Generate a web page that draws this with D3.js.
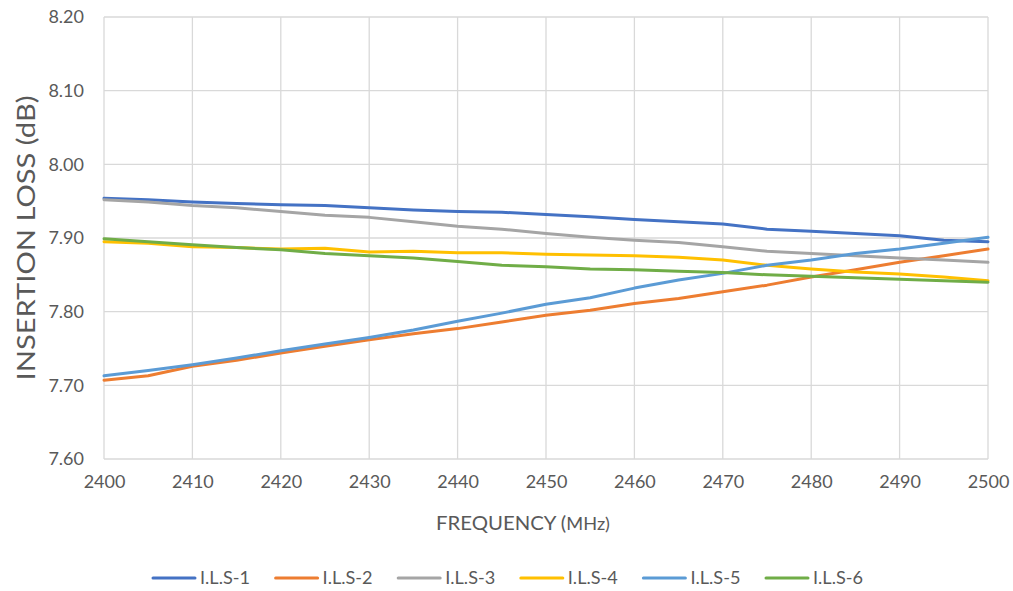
<!DOCTYPE html>
<html>
<head>
<meta charset="utf-8">
<script src="https://cdn.jsdelivr.net/npm/d3@7"></script>
<style>
  body { margin: 0; background: #fff; }
  svg text { font-family: Lato, "Open Sans", sans-serif; fill: #595959; }
</style>
</head>
<body>
<svg id="chart" width="1013" height="591"></svg>
<script>
// Frequency points (MHz)
var freqs = [2400, 2405, 2410, 2415, 2420, 2425, 2430, 2435, 2440, 2445, 2450,
             2455, 2460, 2465, 2470, 2475, 2480, 2485, 2490, 2495, 2500];

// Insertion loss per series (dB)
var ils1 = [7.954, 7.952, 7.949, 7.947, 7.945, 7.944, 7.941, 7.938, 7.936, 7.935, 7.932,
            7.929, 7.925, 7.922, 7.919, 7.912, 7.909, 7.906, 7.903, 7.897, 7.895];
var ils2 = [7.707, 7.713, 7.726, 7.734, 7.744, 7.753, 7.762, 7.770, 7.777, 7.786, 7.795,
            7.802, 7.811, 7.818, 7.827, 7.836, 7.847, 7.857, 7.867, 7.876, 7.885];
var ils3 = [7.952, 7.949, 7.944, 7.941, 7.936, 7.931, 7.928, 7.922, 7.916, 7.912, 7.906,
            7.901, 7.897, 7.894, 7.888, 7.882, 7.879, 7.876, 7.873, 7.870, 7.867];
var ils4 = [7.895, 7.893, 7.888, 7.887, 7.885, 7.886, 7.881, 7.882, 7.880, 7.880, 7.878,
            7.877, 7.876, 7.874, 7.870, 7.863, 7.858, 7.854, 7.851, 7.847, 7.842];
var ils5 = [7.713, 7.720, 7.728, 7.737, 7.747, 7.756, 7.765, 7.775, 7.787, 7.798, 7.810,
            7.819, 7.832, 7.843, 7.852, 7.863, 7.870, 7.879, 7.885, 7.893, 7.901];
var ils6 = [7.899, 7.895, 7.891, 7.887, 7.884, 7.879, 7.876, 7.873, 7.868, 7.863, 7.861,
            7.858, 7.857, 7.855, 7.853, 7.850, 7.848, 7.846, 7.844, 7.842, 7.840];

var names = ["I.L.S-1", "I.L.S-2", "I.L.S-3", "I.L.S-4", "I.L.S-5", "I.L.S-6"];
var colors = ["#4472C4", "#ED7D31", "#A5A5A5", "#FFC000", "#5B9BD5", "#70AD47"];
var seriesValues = [ils1, ils2, ils3, ils4, ils5, ils6];

var xTicks = [2400, 2410, 2420, 2430, 2440, 2450, 2460, 2470, 2480, 2490, 2500];
var yTicks = [7.60, 7.70, 7.80, 7.90, 8.00, 8.10, 8.20];

// Plot area
var margin = { top: 17, right: 25, bottom: 132, left: 104 };
var width = 1013 - margin.left - margin.right;
var height = 591 - margin.top - margin.bottom;

var x = d3.scaleLinear().domain([2400, 2500]).range([0, width]);
var y = d3.scaleLinear().domain([7.60, 8.20]).range([height, 0]);

var svg = d3.select('#chart');
var g = svg.append('g')
    .attr('transform', 'translate(' + margin.left + ',' + margin.top + ')');

// Gridlines
g.append('g')
  .selectAll('line')
  .data(yTicks)
  .enter().append('line')
    .attr('x1', 0).attr('x2', width)
    .attr('y1', function (d) { return y(d); })
    .attr('y2', function (d) { return y(d); })
    .attr('stroke', '#d9d9d9')
    .attr('stroke-width', 1.3);

g.append('g')
  .selectAll('line')
  .data(xTicks)
  .enter().append('line')
    .attr('y1', 0).attr('y2', height)
    .attr('x1', function (d) { return x(d); })
    .attr('x2', function (d) { return x(d); })
    .attr('stroke', '#d9d9d9')
    .attr('stroke-width', 1.3);

// Axes (labels only, lines come from grid)
var xAxis = d3.axisBottom(x).tickValues(xTicks).tickSize(0).tickPadding(16)
    .tickFormat(d3.format('d'));
var yAxis = d3.axisLeft(y).tickValues(yTicks).tickSize(0).tickPadding(20)
    .tickFormat(d3.format('.2f'));

var gx = g.append('g')
  .attr('transform', 'translate(0,' + height + ')')
  .call(xAxis);
gx.select('.domain').remove();
gx.selectAll('text').style('font-size', '18px').attr('fill', '#595959');

var gy = g.append('g').call(yAxis);
gy.select('.domain').remove();
gy.selectAll('text').style('font-size', '18px').attr('fill', '#595959');

// Series lines
var line = d3.line()
  .x(function (d, i) { return x(freqs[i]); })
  .y(function (d) { return y(d); });

seriesValues.forEach(function (vals, i) {
  g.append('path')
    .datum(vals)
    .attr('fill', 'none')
    .attr('stroke', colors[i])
    .attr('stroke-width', 3)
    .attr('stroke-linejoin', 'round')
    .attr('stroke-linecap', 'round')
    .attr('d', line);
});

// Axis titles
svg.append('text')
    .attr('transform', 'translate(35,' + (margin.top + height / 2) + ') rotate(-90)')
    .attr('text-anchor', 'middle')
    .attr('textLength', 285)
    .attr('lengthAdjust', 'spacingAndGlyphs')
    .style('font-size', '25px')
    .text('INSERTION LOSS (dB)');

var xTitle = svg.append('text')
    .attr('x', 523)
    .attr('y', 530)
    .attr('text-anchor', 'middle')
    .attr('textLength', 174)
    .attr('lengthAdjust', 'spacingAndGlyphs')
    .style('font-size', '19px');
xTitle.append('tspan').text('FREQUENCY (');
xTitle.append('tspan').style('font-size', '17px').text('MHz)');

// Legend
var legend = svg.append('g').attr('transform', 'translate(153,578)');
var item = legend.selectAll('g')
  .data(names)
  .enter().append('g')
    .attr('transform', function (d, i) { return 'translate(' + (i * 122.6) + ',0)'; });

item.append('line')
    .attr('x1', 0).attr('x2', 42)
    .attr('y1', 0).attr('y2', 0)
    .attr('stroke', function (d, i) { return colors[i]; })
    .attr('stroke-width', 3)
    .attr('stroke-linecap', 'round');

item.append('text')
    .attr('x', 47)
    .attr('y', 6)
    .attr('textLength', 50)
    .attr('lengthAdjust', 'spacingAndGlyphs')
    .style('font-size', '17px')
    .text(function (d) { return d; });
</script>
</body>
</html>
